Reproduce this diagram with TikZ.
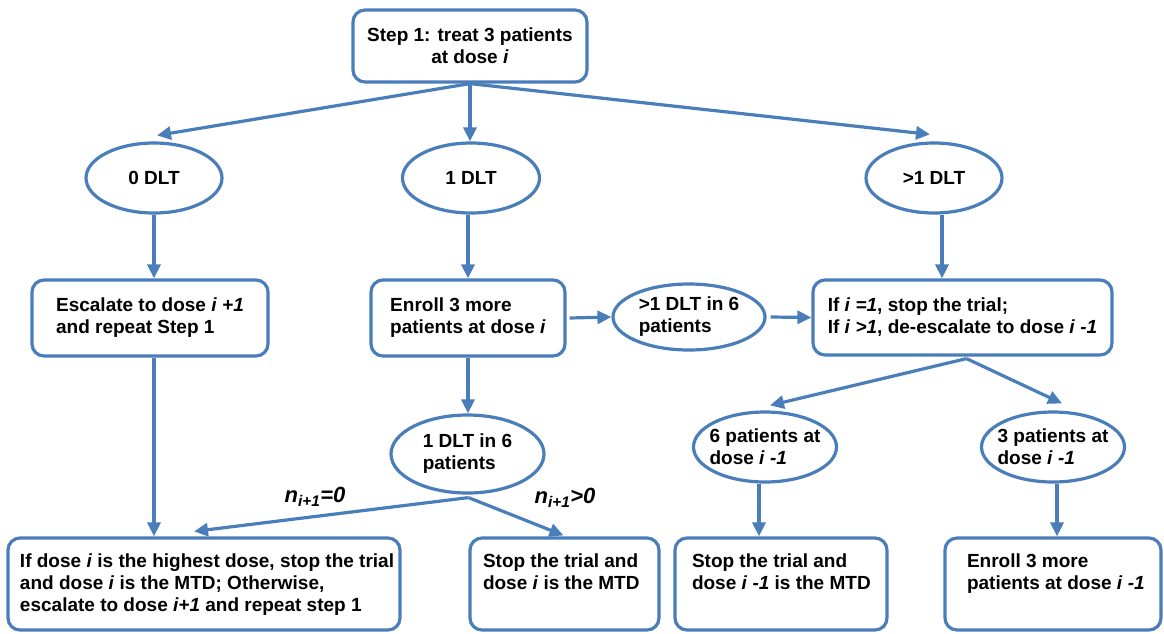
\documentclass[tikz,border=0pt]{standalone}
\usepackage{fontspec}
\setmainfont{Liberation Sans}
\usetikzlibrary{arrows.meta,shapes.geometric,calc}
\definecolor{blu}{RGB}{74,126,187}
\newcommand\myi{\textit{i}}
\newcommand\toptext[3]{\parbox[c][92pt][t]{#1pt}{\vspace*{16pt}\raggedright\leftskip=#2pt\relax #3}}
\begin{document}
\begin{tikzpicture}[x=1pt,y=-1pt,
  every node/.style={font=\bfseries\fontsize{19}{22}\selectfont, text=black},
  box/.style={draw=blu, line width=3.2pt, rounded corners=12pt, inner sep=0pt, align=left},
  oval/.style={draw=blu, line width=3.2pt, ellipse, inner xsep=-7pt, inner ysep=0pt, align=left},
  arr/.style={draw=blu, line width=3.2pt, -{Triangle[length=14pt,width=13pt]}},
  lab/.style={font=\bfseries\itshape\fontsize{22}{24}\selectfont}]
\useasboundingbox (0,0) rectangle (1164,633);
% top
\node[box, align=center, minimum width=234, minimum height=72] (s1) at (470,46) {Step 1: treat 3 patients\\at dose \myi};
% level 1 ovals
\node[oval, minimum width=136, minimum height=70] (d0) at (154,178) {0 DLT};
\node[oval, minimum width=137, minimum height=70] (d1) at (471,178) {1 DLT};
\node[oval, minimum width=136, minimum height=70] (d2) at (934,178) {>1 DLT};
% level 2
\node[box, minimum width=236, minimum height=76] (esc) at (150,318) {Escalate to dose \myi{} \textit{+1}\\and repeat Step 1};
\node[box, minimum width=194, minimum height=76] (enr) at (468,318) {Enroll 3 more\\patients at dose \myi};
\node[oval, minimum width=152, minimum height=66] (o6) at (689,317) {>1 DLT in 6\\patients};
\node[box, minimum width=299, minimum height=75] (ifb) at (962.5,317.5) {If \myi{} \textit{=1}, stop the trial;\\If \myi{} \textit{>1}, de-escalate to dose \myi{} \textit{-1}};
% level 3 ovals
\node[oval, minimum width=153, minimum height=78] (o16) at (467.5,454) {1 DLT in 6\\patients};
\node[oval, minimum width=143, minimum height=70] (o6p) at (765,447) {6 patients at\\dose \myi{} \textit{-1}};
\node[oval, minimum width=143, minimum height=70] (o3p) at (1053,447) {3 patients at\\dose \myi{} \textit{-1}};
% bottom boxes
\node[box] (bl) at (204,584) {\toptext{392}{12}{If dose \myi{} is the highest dose, stop the trial\\and dose \myi{} is the MTD; Otherwise,\\escalate to dose \textit{i+1} and repeat step 1}};
\node[box] (st) at (564.5,584) {\toptext{189}{13}{Stop the trial and\\dose \myi{} is the MTD}};
\node[box] (s6) at (781,584) {\toptext{212}{17}{Stop the trial and\\dose \myi{} \textit{-1} is the MTD}};
\node[box] (e3) at (1053,584) {\toptext{216}{22}{Enroll 3 more\\patients at dose \myi{} \textit{-1}}};
% labels
\node[lab] (l0) at (315,497) {n\textsubscript{i+1}=0};
\node[lab] (l1) at (565,498) {n\textsubscript{i+1}>0};
% arrows
\draw[arr] (s1.south) -- ($(d0.north)+(3,-6)$);
\draw[arr] (s1.south) -- (s1.south |- d1.north);
\draw[arr] (s1.south) -- ($(d2.north)+(-4,-7)$);
\draw[arr] (d0.south) -- (d0.south |- esc.north);
\coordinate (a1) at ($(d1.south)+(-3,0)$);
\draw[arr] (a1) -- (a1 |- enr.north);
\coordinate (a2) at ($(d2.south)+(8,0)$);
\draw[arr] (a2) -- (a2 |- ifb.north);
\draw[arr] ($(enr.east)+(3,0)$) -- (o6.west);
\draw[arr] ($(o6.east)+(4,0)$) -- (ifb.west);
\draw[arr] (a1 |- enr.south) -- (a1 |- o16.north);
\draw[arr] (esc.south -| d0.south) -- (d0.south |- bl.north);
\draw[arr] ($(o16.south)+(1,3)$) -- ($(bl.north)+(-10,-5)$);
\draw[arr] ($(o16.south)+(1,3)$) -- ($(st.north)+(-1,-1)$);
\coordinate (ifbj) at ($(ifb.south)+(4,2)$);
\draw[arr] (ifbj) -- ($(o6p.north)+(5,-5)$);
\draw[arr] (ifbj) -- ($(o3p.north)+(9,-7)$);
\coordinate (a6) at ($(o6p.south)+(-6,0)$);
\draw[arr] (a6) -- (a6 |- s6.north);
\coordinate (a3) at ($(o3p.south)+(4,0)$);
\draw[arr] (a3) -- (a3 |- e3.north);
\end{tikzpicture}
\end{document}
